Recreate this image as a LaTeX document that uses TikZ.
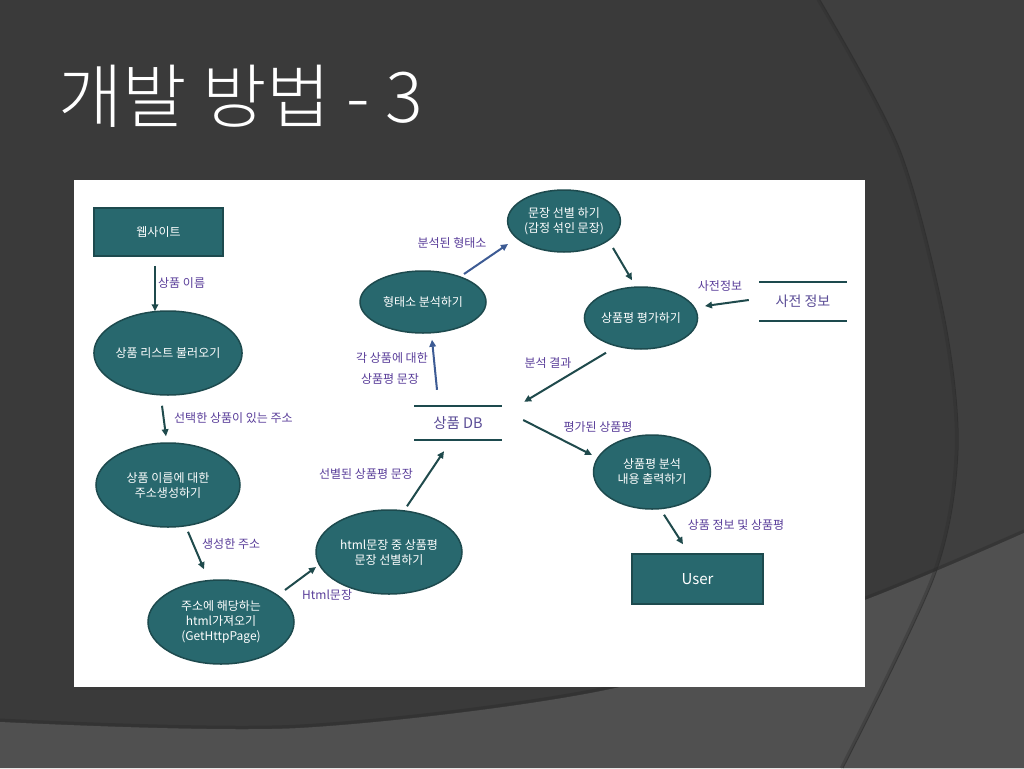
\documentclass[tikz,border=0pt]{standalone}
\usepackage{fontspec}
\setmainfont{Noto Sans CJK KR}
\newfontfamily\titlefont{Noto Sans CJK KR Light}
\usetikzlibrary{shapes.geometric,arrows.meta,calc}
\definecolor{bgdark}{HTML}{3A3A3A}
\definecolor{bgright}{HTML}{3F3F3F}
\definecolor{bglow}{HTML}{505050}
\definecolor{bgline}{HTML}{2C2C2C}
\definecolor{tealfill}{HTML}{28686E}
\definecolor{tealline}{HTML}{1D4A4E}
\definecolor{arrowc}{HTML}{1F4A4C}
\definecolor{arrowb}{HTML}{3D5B94}
\definecolor{lblc}{HTML}{5A3E9A}
\definecolor{storec}{HTML}{5A4C96}
\tikzset{
  proc/.style={ellipse, draw=tealline, line width=1.5pt, fill=tealfill, text=white,
    font=\fontsize{12}{15}\selectfont, align=center, inner sep=0pt},
  box/.style={rectangle, draw=tealline, line width=1.5pt, fill=tealfill, text=white,
    inner sep=0pt},
  lbl/.style={text=lblc, font=\fontsize{12}{14}\selectfont, inner sep=0pt},
  store/.style={text=storec, font=\fontsize{14.5}{16}\selectfont, inner sep=0pt,
    minimum width=87pt},
  storeline/.style={draw=tealline, line width=2pt},
  arr/.style={-{Triangle[length=7pt,width=6.5pt]}, line width=2pt, draw=arrowc},
  arrb/.style={arr, draw=arrowb}
}
\begin{document}
\begin{tikzpicture}[x=1pt,y=-1pt]
\useasboundingbox (0,0) rectangle (1024,768);
% background
\fill[bgdark] (0,0) rectangle (1024,768);
\fill[bgright] plot[smooth] coordinates {(820,0) (900,150) (945,320) (958,450) (935,575) (843,768)} -- (1024,768) -- (1024,0) -- cycle;
\fill[bglow] plot[smooth] coordinates {(0,722) (300,728) (620,687) (865,600) (1024,533)} -- (1024,768) -- (0,768) -- cycle;
\draw[bgline, line width=3pt, opacity=0.45] plot[smooth] coordinates {(0,720) (300,726) (620,685) (865,598) (1024,531)};
\draw[bgline, line width=2.5pt, opacity=0.35] plot[smooth] coordinates {(818,0) (898,150) (943,320) (956,450) (933,575) (841,768)};
\draw[bgline, line width=1pt, opacity=0.7] plot[smooth] coordinates {(820,0) (900,150) (945,320) (958,450) (935,575) (843,768)};
% panel
\fill[white] (74,180) rectangle (865,687);
% title
\node[anchor=base west, text=white, font=\titlefont\fontsize{70}{76}\selectfont, inner sep=0pt] (title) at (58,122) {개발 방법 - 3};
% nodes
\node[box, minimum width=129pt, minimum height=48pt, font=\fontsize{12}{14}\selectfont] (web) at (158.5,232) {웹사이트};
\node[proc, minimum width=146pt, minimum height=84pt] (list) at (168,353) {상품 리스트 불러오기};
\node[proc, minimum width=144pt, minimum height=84pt] (addr) at (168,485) {상품 이름에 대한\\주소생성하기};
\node[proc, minimum width=146pt, minimum height=84pt] (fetch) at (221,622) {주소에 해당하는\\html가져오기\\(GetHttpPage)};
\node[proc, minimum width=146pt, minimum height=84pt] (sel) at (389,552) {html문장 중 상품평\\문장 선별하기};
\node[store, minimum height=33pt] (db) at (458,423) {상품 DB};
\draw[storeline] (db.north west) -- (db.north east);
\draw[storeline] (db.south west) -- (db.south east);
\node[proc, minimum width=126pt, minimum height=62pt] (morph) at (423,302) {형태소 분석하기};
\node[proc, minimum width=112pt, minimum height=62pt] (sent) at (564,221) {문장 선별 하기\\(감정 섞인 문장)};
\node[proc, minimum width=112pt, minimum height=62pt] (eval) at (641,318) {상품평 평가하기};
\node[store, minimum height=39pt, font=\fontsize{14}{16}\selectfont] (dict) at (803,301.5) {사전 정보};
\draw[storeline] (dict.north west) -- (dict.north east);
\draw[storeline] (dict.south west) -- (dict.south east);
\node[proc, minimum width=117pt, minimum height=74pt] (out) at (652,472) {상품평 분석\\내용 출력하기};
\node[box, minimum width=131pt, minimum height=50pt, font=\fontsize{15}{17}\selectfont] (user) at (697.5,579) {User};
% connectors
\draw[arr] ($(web.south)+(-3.5,9)$) -- ($(list.north)+(-13,1)$);
\draw[arr] ($(list.south)+(-6,10)$) -- ($(addr.north)+(-2,-6)$);
\draw[arr] ($(addr.south)+(20,4)$) -- ($(fetch.north)+(-17,-10)$);
\draw[arr] ($(fetch.center)+(64,-32)$) -- ($(sel.center)+(-73,15)$);
\draw[arr] ($(sel.north)+(18,-3)$) -- ($(db.south)+(-14,11.5)$);
\draw[arrb] ($(db.north)+(-21,-16.5)$) -- ($(morph.south)+(9,6)$);
\draw[arrb] ($(morph.center)+(41,-28)$) -- ($(sent.center)+(-56,23)$);
\draw[arr] ($(sent.center)+(49,27)$) -- ($(eval.north)+(-9,-6)$);
\draw[arr] ($(dict.west)+(-10.5,-1.5)$) -- ($(eval.center)+(64,-12)$);
\draw[arr] ($(eval.south)+(-35,3)$) -- ($(db.north east)+(22.5,-4.5)$);
\draw[arr] ($(db.east)+(21.5,-3)$) -- ($(out.center)+(-60,-17)$);
\draw[arr] ($(out.south)+(12,5)$) -- ($(user.north)+(-14.5,-9)$);
% labels
\node[lbl, anchor=west] (l1) at (158,283) {상품 이름};
\node[lbl, anchor=west] (l2) at (174,418) {선택한 상품이 있는 주소};
\node[lbl, anchor=west] (l3) at (202,544) {생성한 주소};
\node[lbl, anchor=west] (l4) at (302,595) {Html문장};
\node[lbl] (l5) at (366,474) {선별된 상품평 문장};
\node[lbl] (l6a) at (392,358) {각 상품에 대한};
\node[lbl] (l6b) at (390,379) {상품평 문장};
\node[lbl] (l7) at (452,243) {분석된 형태소};
\node[lbl] (l8) at (720,286) {사전정보};
\node[lbl] (l9) at (548,363) {분석 결과};
\node[lbl] (l10) at (598,427) {평가된 상품평};
\node[lbl] (l11) at (736,525) {상품 정보 및 상품평};
\end{tikzpicture}
\end{document}
